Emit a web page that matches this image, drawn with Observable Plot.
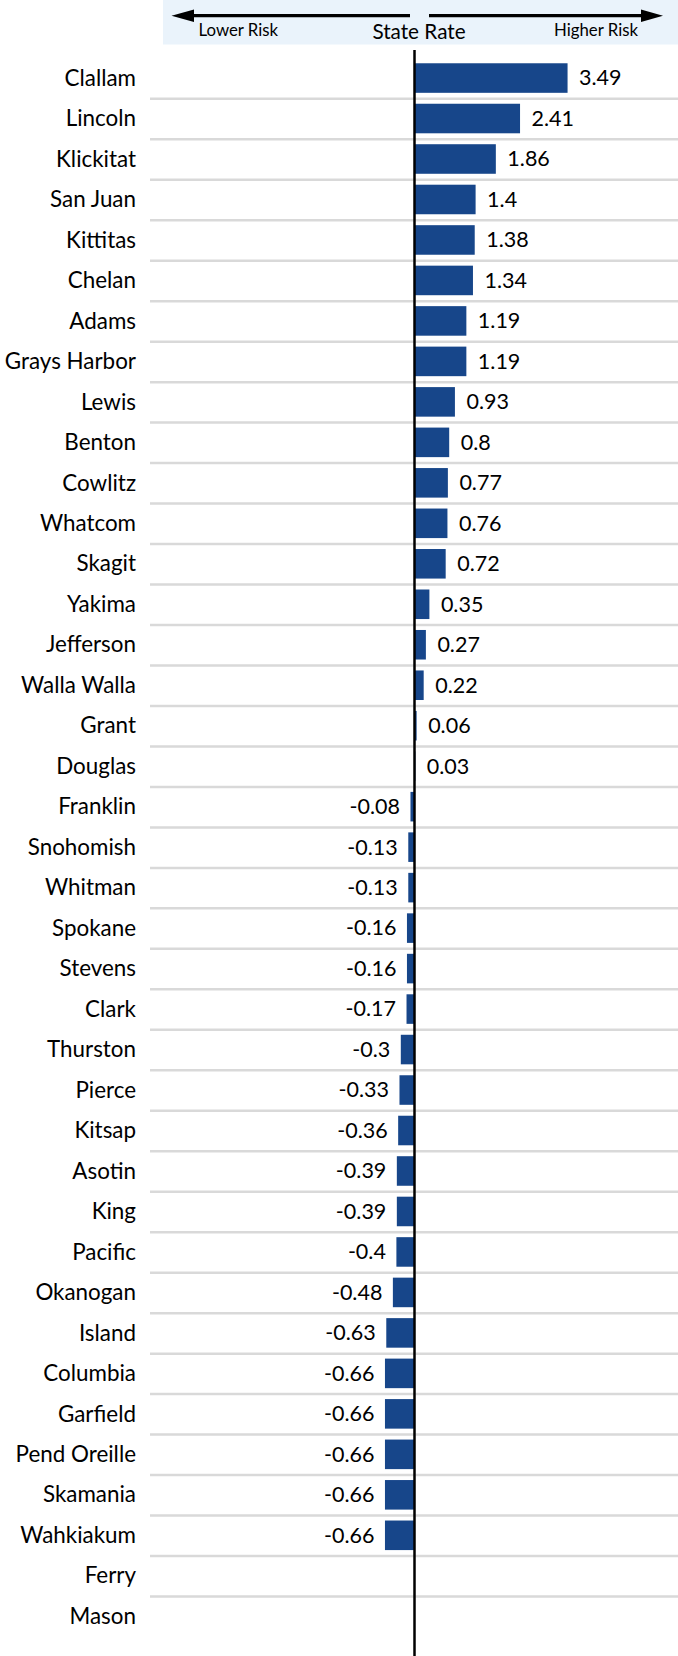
<!DOCTYPE html>
<html><head><meta charset="utf-8">
<script src="https://cdn.jsdelivr.net/npm/d3@7"></script>
<script src="https://cdn.jsdelivr.net/npm/@observablehq/plot@0.6"></script>
<style>
body{margin:0;background:#fff;font-family:Lato,sans-serif;}
#hdr{position:relative;width:678px;height:50px;}
#chart svg{display:block;}
#hdr svg{display:block;}
</style></head><body>
<div id="hdr"></div>
<div id="chart"></div>
<script>
const counties = ["Clallam","Lincoln","Klickitat","San Juan","Kittitas","Chelan","Adams","Grays Harbor","Lewis","Benton","Cowlitz","Whatcom","Skagit","Yakima","Jefferson","Walla Walla","Grant","Douglas","Franklin","Snohomish","Whitman","Spokane","Stevens","Clark","Thurston","Pierce","Kitsap","Asotin","King","Pacific","Okanogan","Island","Columbia","Garfield","Pend Oreille","Skamania","Wahkiakum","Ferry","Mason"];
const values = [3.49,2.41,1.86,1.4,1.38,1.34,1.19,1.19,0.93,0.8,0.77,0.76,0.72,0.35,0.27,0.22,0.06,0.03,-0.08,-0.13,-0.13,-0.16,-0.16,-0.17,-0.3,-0.33,-0.36,-0.39,-0.39,-0.4,-0.48,-0.63,-0.66,-0.66,-0.66,-0.66,-0.66,null,null];
const headerLabels = ["Lower Risk","State Rate","Higher Risk"];

const data = counties.map((c,i)=>({county:c, value:values[i]}));
const mt = 7.8, mb = 19.5, H = 1606;
const step = (H - mt - mb) / counties.length;
const font = "Lato, sans-serif";

const chart = Plot.plot({
  width: 678, height: H,
  marginLeft: 150, marginRight: 0, marginTop: mt, marginBottom: mb,
  style: {fontFamily: font, fontSize: "22.4px", color: "#000", background: "#fff"},
  x: {domain: [-6, 6], axis: null},
  y: {domain: counties, paddingInner: 0.27, paddingOuter: 0.135, round: false, axis: null},
  marks: [
    Plot.ruleY(counties.slice(1), {y: d => d, dy: -step/2, stroke: "#d9d9d9", strokeWidth: 2.5}),
    Plot.barX(data.filter(d => d.value != null), {x: "value", y: "county", fill: "#17468a"}),
    Plot.ruleX([0], {stroke: "#000", strokeWidth: 2.5, insetTop: -mt, insetBottom: -mb}),
    Plot.text(counties, {y: d => d, text: d => d, frameAnchor: "left", textAnchor: "end", dx: -14.5, fill: "#000", fontSize: 22.4}),
    Plot.text(data.filter(d => d.value != null && d.value >= 0), {x: "value", y: "county", text: d => String(d.value), textAnchor: "start", dx: 11, fill: "#000", fontSize: 21.5}),
    Plot.text(data.filter(d => d.value != null && d.value < 0), {x: "value", y: "county", text: d => String(d.value), textAnchor: "end", dx: -11, fill: "#000", fontSize: 21.5})
  ]
});
document.getElementById("chart").append(chart);

// header band with direction arrows
const hdr = d3.select("#hdr").append("svg").attr("width", 678).attr("height", 50);
hdr.append("rect").attr("x", 163).attr("y", 0).attr("width", 515).attr("height", 44.5).attr("fill", "#eaf3fb");
hdr.append("line").attr("x1", 190).attr("x2", 410).attr("y1", 15.7).attr("y2", 15.7).attr("stroke", "#000").attr("stroke-width", 3.2);
hdr.append("path").attr("d", "M171.5,15.7 L194,9.5 L194,21.9 Z").attr("fill", "#000");
hdr.append("line").attr("x1", 429).attr("x2", 645).attr("y1", 15.7).attr("y2", 15.7).attr("stroke", "#000").attr("stroke-width", 3.2);
hdr.append("path").attr("d", "M663,15.7 L641,9.5 L641,21.9 Z").attr("fill", "#000");
hdr.append("text").attr("x", 198.5).attr("y", 35.5).attr("font-family", font).attr("font-size", 16.8).text(headerLabels[0]);
hdr.append("text").attr("x", 419).attr("y", 38.5).attr("text-anchor", "middle").attr("font-family", font).attr("font-size", 20.7).text(headerLabels[1]);
hdr.append("text").attr("x", 638).attr("y", 35.5).attr("text-anchor", "end").attr("font-family", font).attr("font-size", 16.8).text(headerLabels[2]);
</script>
</body></html>
